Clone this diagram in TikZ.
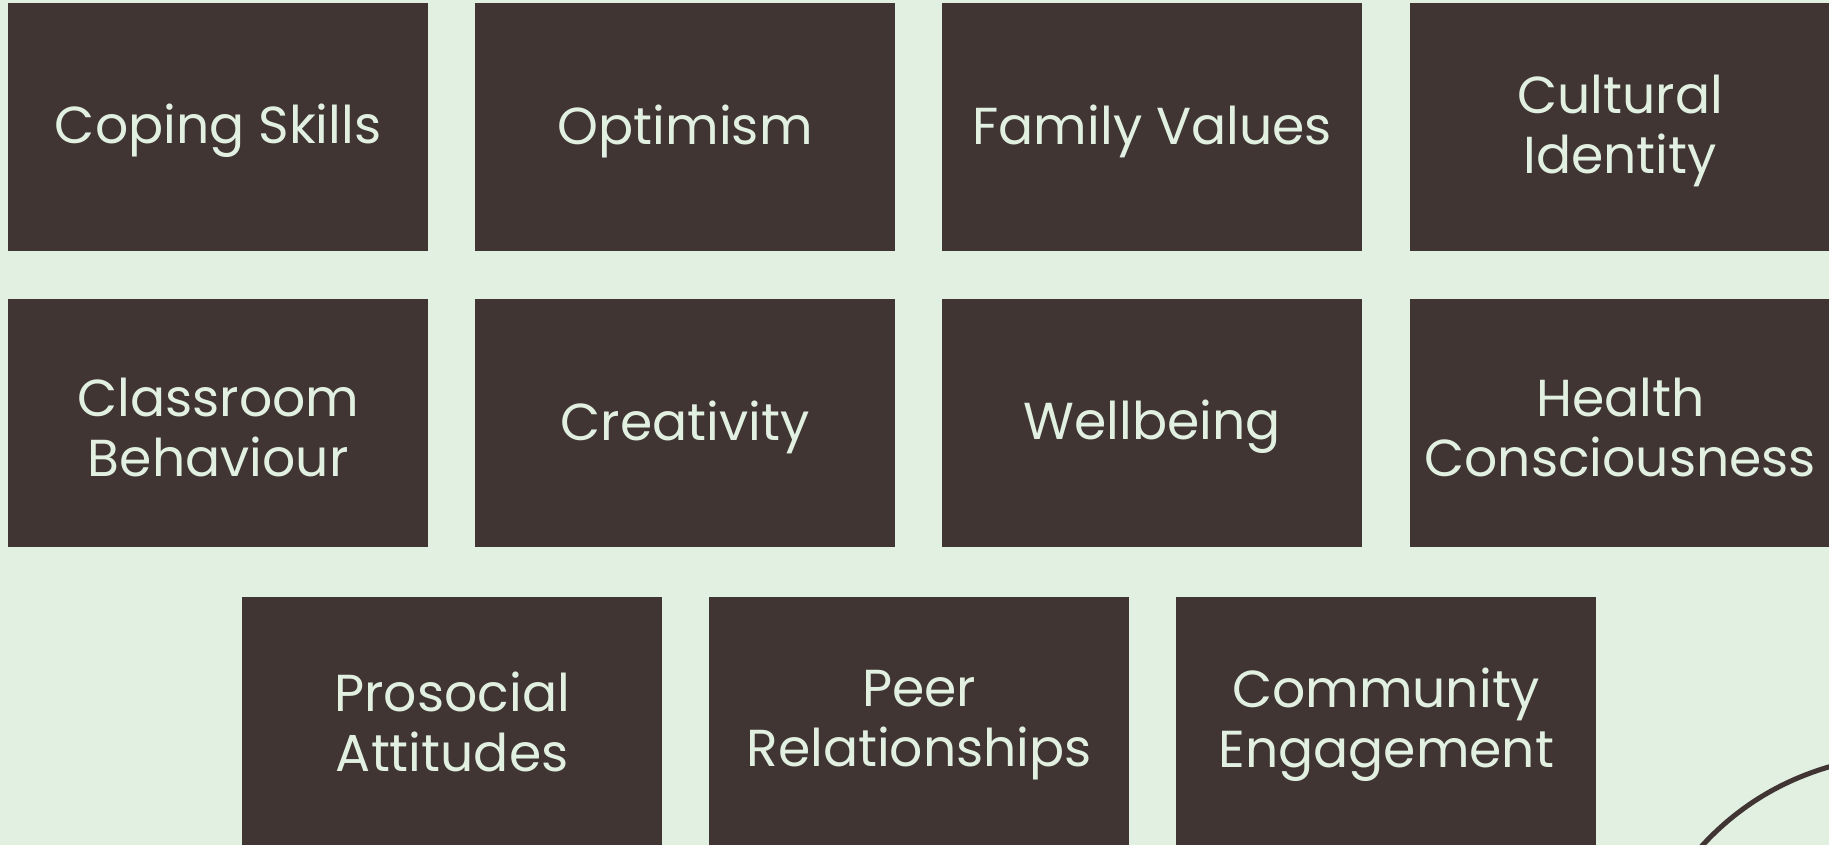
\documentclass[tikz,border=0pt]{standalone}
\usepackage{fontspec}
\setmainfont{Poppins}
\definecolor{bg}{HTML}{E2F0E2}
\definecolor{boxc}{HTML}{403533}
\begin{document}
\begin{tikzpicture}[x=1pt,y=-1pt,
  card/.style={fill=boxc, draw=none, minimum width=420pt, minimum height=248pt,
    anchor=north west, inner sep=0pt},
  lbl/.style={inner sep=0pt, text=bg, font=\fontsize{52}{60}\selectfont, align=center}]
\useasboundingbox (0,0) rectangle (1829,845);
\clip (0,0) rectangle (1829,845);
\fill[bg] (0,0) rectangle (1829,845);
% row 1
\node[card] (coping) at (8,3) {};
\node[card] (optimism) at (475,3) {};
\node[card] (family) at (942,3) {};
\node[card] (cultural) at (1410,3) {};
% row 2
\node[card] (classroom) at (8,299) {};
\node[card] (creativity) at (475,299) {};
\node[card] (wellbeing) at (942,299) {};
\node[card] (health) at (1410,299) {};
% row 3
\node[card] (prosocial) at (242,597) {};
\node[card] (peer) at (709,597) {};
\node[card] (community) at (1176,597) {};
% labels
\node[lbl] (copingT) at ([yshift=-4pt]coping.center) {Coping Skills};
\node[lbl] (optimismT) at ([yshift=-4pt]optimism.center) {Optimism};
\node[lbl] (familyT) at ([yshift=-4pt]family.center) {Family Values};
\node[lbl] (culturalT) at ([yshift=-4pt]cultural.center) {Cultural\\Identity};
\node[lbl] (classroomT) at ([yshift=-4pt]classroom.center) {Classroom\\Behaviour};
\node[lbl] (creativityT) at ([yshift=-4pt]creativity.center) {Creativity};
\node[lbl] (wellbeingT) at ([yshift=-4pt]wellbeing.center) {Wellbeing};
\node[lbl] (healthT) at ([yshift=-4pt]health.center) {Health\\Consciousness};
\node[lbl] (prosocialT) at ([yshift=-1pt]prosocial.center) {Prosocial\\Attitudes};
\node[lbl] (peerT) at ([yshift=-4pt]peer.center) {Peer\\Relationships};
\node[lbl] (communityT) at ([yshift=-4pt]community.center) {Community\\Engagement};
% arc at bottom right
\coordinate (arcA) at (1700,848);
\coordinate (arcB) at (1832,766);
\draw[boxc, line width=5pt] (arcA) .. controls (1735,809) and (1779,781) .. (arcB);
\end{tikzpicture}
\end{document}
